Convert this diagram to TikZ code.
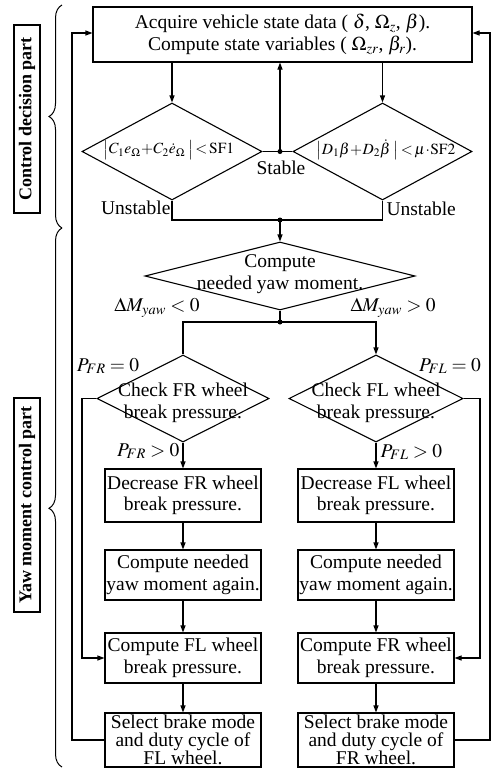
\documentclass[tikz,border=0pt]{standalone}
\usepackage{mathptmx}
\usepackage{fontspec}
\setmainfont{Liberation Serif}
\usetikzlibrary{shapes.geometric,arrows.meta,decorations.pathreplacing}
\begin{document}
\begin{tikzpicture}[x=1pt,y=-1pt,
  line width=1.1pt,
  every node/.style={font=\fontsize{19.5}{21.5}\selectfont},
  proc/.style={draw, rectangle, minimum width=156pt, align=center, inner sep=1pt},
  dia/.style={draw, diamond, inner sep=0pt},
  arr/.style={-{Triangle[length=7pt,width=5pt]}},
  lbl/.style={inner sep=0pt},
  frm/.style={inner sep=0pt, font=\fontsize{15.5}{17}\selectfont},
  junc/.style={circle, fill, inner sep=0pt, minimum size=5pt},
  side/.style={draw, rotate=90, font=\bfseries\fontsize{18}{20}\selectfont, inner sep=0pt, minimum height=26pt},
  bracestyle/.style={decorate, decoration={brace, amplitude=13pt}, line width=1pt}
]
\useasboundingbox (0,0) rectangle (493,769);

% top box
\node[draw, minimum width=379pt, minimum height=55pt, align=center, inner sep=1pt] (top) at (282.5,34.5)
  {Acquire vehicle state data ( $\delta$, $\Omega_{z}$, $\beta$).\\Compute state variables ( $\Omega_{zr}$, $\beta_{r}$).};

% decision diamonds
\node[dia, minimum width=180pt, minimum height=97pt] (d1) at (172,151.5) {};
\node[dia, minimum width=179pt, minimum height=97pt] (d2) at (382.5,151.5) {};
\node[frm] (d1t) at (169,150) {$\bigl|C_1e_\Omega \!+\! C_2\dot{e}_\Omega\;\bigr| \!<\! \mathrm{SF1}$};
\node[frm] (d2t) at (386,150) {$\bigl|D_1\beta \!+\! D_2\dot{\beta}\;\bigr| \!<\! \mu\!\cdot\!\mathrm{SF2}$};

\draw[arr] (top.south -| d1.north) -- (d1.north);
\draw[arr] (top.south -| d2.north) -- (d2.north);

% stable
\draw (d1.east) -- (d2.west);
\node[junc] (js) at (280,151.5) {};
\draw[arr] (js.center) -- (js |- top.south);
\node[lbl] (stable) at (281,168) {Stable};

% unstable
\node[junc] (ju) at (280,220) {};
\draw (d1.south) -- (d1.south |- ju) -- (ju -| d2.south) -- (d2.south);
\node[lbl, anchor=east] (uns1) at (171,208) {Unstable};
\node[lbl, anchor=west] (uns2) at (386,209) {Unstable};

% compute yaw moment
\node[dia, minimum width=270pt, minimum height=68pt] (d3) at (280,276) {};
\draw[arr] (ju.center) -- (d3.north);
\node[align=center, lbl] (d3t) at (280,274) {Compute\\needed yaw moment.};

\node[junc] (jm) at (280,322) {};
\draw (d3.south) -- (jm.center);
\node[lbl] (dml) at (157,308) {$\Delta M_{yaw} < 0$};
\node[lbl] (dmr) at (393,308) {$\Delta M_{yaw} > 0$};

% check diamonds
\node[dia, minimum width=172pt, minimum height=87pt] (d4) at (183,398.5) {};
\node[dia, minimum width=174pt, minimum height=87pt] (d5) at (376,398.5) {};
\node[align=center, lbl] (d4t) at (183,403) {Check FR wheel\\break pressure.};
\node[align=center, lbl] (d5t) at (376,403) {Check FL wheel\\break pressure.};
\draw (jm.center) -- (jm -| d4.north) -- (d4.north);
\draw[arr] (jm.center) -- (jm -| d5.north) -- (d5.north);

\node[lbl] (p1) at (108,366) {$P_{FR} = 0$};
\node[lbl] (p2) at (450,366) {$P_{FL} = 0$};
\node[lbl, anchor=east] (p3) at (180,451) {$P_{FR} > 0$};
\node[lbl, anchor=west] (p4) at (380,452) {$P_{FL} > 0$};

% left column
\node[proc, minimum height=53pt] (b1L) at (183,495.5) {Decrease FR wheel\\break pressure.};
\node[proc, minimum height=50pt] (b2L) at (183,575) {Compute needed\\yaw moment again.};
\node[proc, minimum height=50pt] (b3L) at (183,658) {Compute FL wheel\\break pressure.};
\node[proc, minimum height=54pt, font=\fontsize{19.5}{17.5}\selectfont] (b4L) at (183,740) {Select brake mode\\and duty cycle of\\FL wheel.};

% right column
\node[proc, minimum height=53pt] (b1R) at (376,495.5) {Decrease FL wheel\\break pressure.};
\node[proc, minimum height=50pt] (b2R) at (376,575) {Compute needed\\yaw moment again.};
\node[proc, minimum height=50pt] (b3R) at (376,658) {Compute FR wheel\\break pressure.};
\node[proc, minimum height=54pt, font=\fontsize{19.5}{17.5}\selectfont] (b4R) at (376,740) {Select brake mode\\and duty cycle of\\FR wheel.};

\draw[arr] (d4.south) -- (b1L.north);
\draw[arr] (b1L) -- (b2L);
\draw[arr] (b2L) -- (b3L);
\draw[arr] (b3L) -- (b4L);
\draw[arr] (d5.south) -- (b1R.north);
\draw[arr] (b1R) -- (b2R);
\draw[arr] (b2R) -- (b3R);
\draw[arr] (b3R) -- (b4R);

% bypass P=0
\coordinate (lb) at (82,0);
\coordinate (rb) at (480,0);
\draw[arr] (d4.west) -- (d4.west -| lb) -- (lb |- b3L.west) -- (b3L.west);
\draw[arr] (d5.east) -- (d5.east -| rb) -- (rb |- b3R.east) -- (b3R.east);

% feedback loops
\coordinate (lf) at (72,33);
\coordinate (rf) at (490,33);
\draw[arr] (b4L.west) -- (b4L.west -| lf) -- (lf) -- (lf -| top.west);
\draw[arr] (b4R.east) -- (b4R.east -| rf) -- (rf) -- (rf -| top.east);

% braces and side labels
\draw[bracestyle] (62,228) -- (62,5);
\draw[bracestyle, decoration={aspect=0.48}] (62,767) -- (62,228);
\node[side, minimum width=188pt] (s1) at (27,119) {Control decision part};
\node[side, minimum width=214pt] (s2) at (27,505) {Yaw moment control part};
\end{tikzpicture}
\end{document}
